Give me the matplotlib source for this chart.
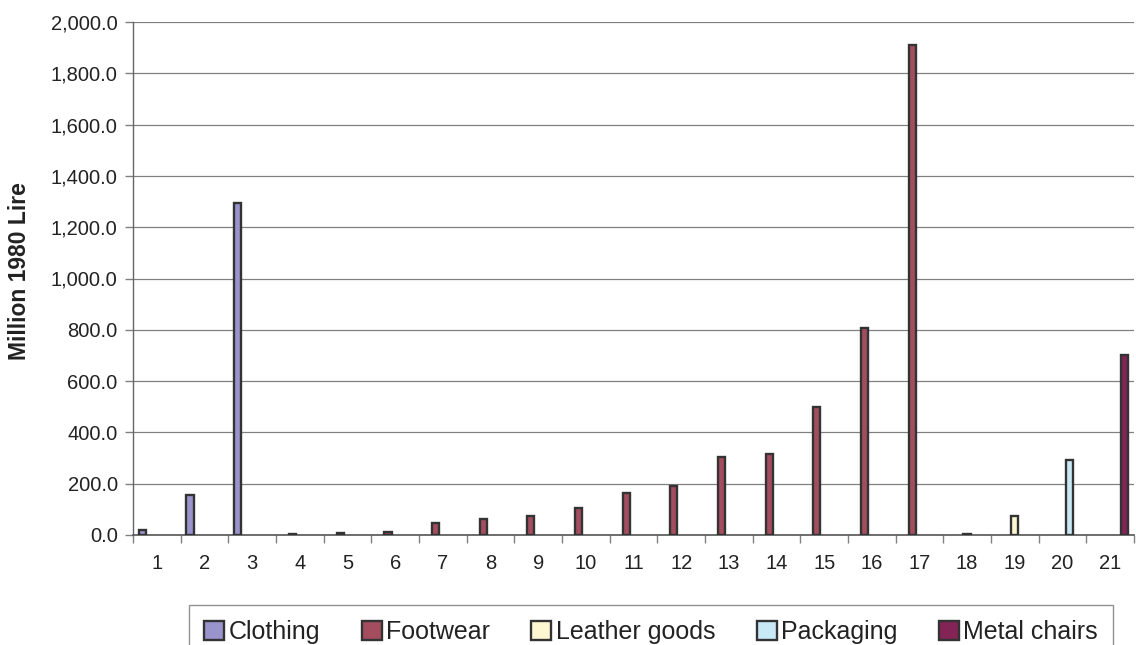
import matplotlib
matplotlib.use("Agg")
import matplotlib.pyplot as plt
from matplotlib.ticker import FuncFormatter, FixedLocator
import numpy as np

plt.rcParams['font.family'] = ['Liberation Sans', 'DejaVu Sans']

categories = [str(i) for i in range(1, 22)]
series_names = ["Clothing", "Footwear", "Leather goods", "Packaging", "Metal chairs"]

clothing = [18, 155, 1295, 0, 0, 0, 0, 0, 0, 0, 0, 0, 0, 0, 0, 0, 0, 0, 0, 0, 0]
footwear = [0, 0, 0, 5, 8, 12, 45, 64, 73, 104, 163, 192, 305, 314, 498, 808, 1910, 0, 0, 0, 0]
leather_goods = [0, 0, 0, 0, 0, 0, 0, 0, 0, 0, 0, 0, 0, 0, 0, 0, 0, 5, 75, 0, 0]
packaging = [0, 0, 0, 0, 0, 0, 0, 0, 0, 0, 0, 0, 0, 0, 0, 0, 0, 0, 0, 294, 0]
metal_chairs = [0, 0, 0, 0, 0, 0, 0, 0, 0, 0, 0, 0, 0, 0, 0, 0, 0, 0, 0, 0, 700]

colors = ["#9a94cc", "#a34d5f", "#fdf8d2", "#c9e9f6", "#842456"]
edge = "#333333"
text_col = "#222222"

fig = plt.figure(figsize=(11.36, 6.45), dpi=100)
ax = fig.add_axes([133 / 1136, 1 - 535 / 645, (1134 - 133) / 1136, (535 - 22) / 645])

n_series = 5
w = 1 / (n_series + 1.5)
x = np.arange(1, len(categories) + 1)
all_series = [clothing, footwear, leather_goods, packaging, metal_chairs]
handles = []
for k, (name, vals, col) in enumerate(zip(series_names, all_series, colors)):
    vals = np.asarray(vals, dtype=float)
    offs = -0.5 + 0.75 * w + (k + 0.5) * w
    mask = vals > 0
    ax.bar(x[mask] + offs, vals[mask], width=w, color=col, edgecolor=edge,
           linewidth=1.7, zorder=3)
    handles.append(plt.Rectangle((0, 0), 1, 1, facecolor=col, edgecolor=edge, linewidth=1.7))

ax.set_xlim(0.5, len(categories) + 0.5)
ax.set_ylim(0, 2000)
ax.set_yticks(np.arange(0, 2001, 200))
ax.yaxis.set_major_formatter(FuncFormatter(lambda v, p: f"{v:,.1f}"))
ax.yaxis.grid(True, color="#808080", linewidth=0.9, zorder=0)
ax.set_axisbelow(True)

ax.set_xticks(x)
ax.set_xticklabels(categories)
ax.xaxis.set_minor_locator(FixedLocator(np.arange(0.5, len(categories) + 1, 1)))
ax.tick_params(axis='x', which='major', length=0, labelsize=14.5, pad=14, labelcolor=text_col)
ax.tick_params(axis='x', which='minor', length=6, width=1, color='#808080')
ax.tick_params(axis='y', length=6, width=1, color='#808080', labelsize=14.5,
               labelcolor=text_col, pad=5)

for s in ['top', 'right']:
    ax.spines[s].set_visible(False)
ax.spines['left'].set_color('#666666')
ax.spines['bottom'].set_color('#555555')
ax.spines['left'].set_linewidth(1)
ax.spines['bottom'].set_linewidth(1.2)

ax.set_ylabel("Million 1980 Lire", fontsize=16.5, fontweight='bold', color=text_col)
ax.yaxis.set_label_coords(-0.102, 0.515)

leg = fig.legend(handles, series_names, loc='upper center',
                 bbox_to_anchor=(651 / 1136, 1 - 605 / 645), ncol=5,
                 fontsize=18, frameon=True, fancybox=False, handlelength=0.8,
                 handleheight=0.8, handletextpad=0.18, columnspacing=1.65,
                 borderpad=0.6, borderaxespad=0, labelcolor=text_col)
leg.get_frame().set_edgecolor('#777777')
leg.get_frame().set_linewidth(1)

fig.savefig("out.png", dpi=100)
